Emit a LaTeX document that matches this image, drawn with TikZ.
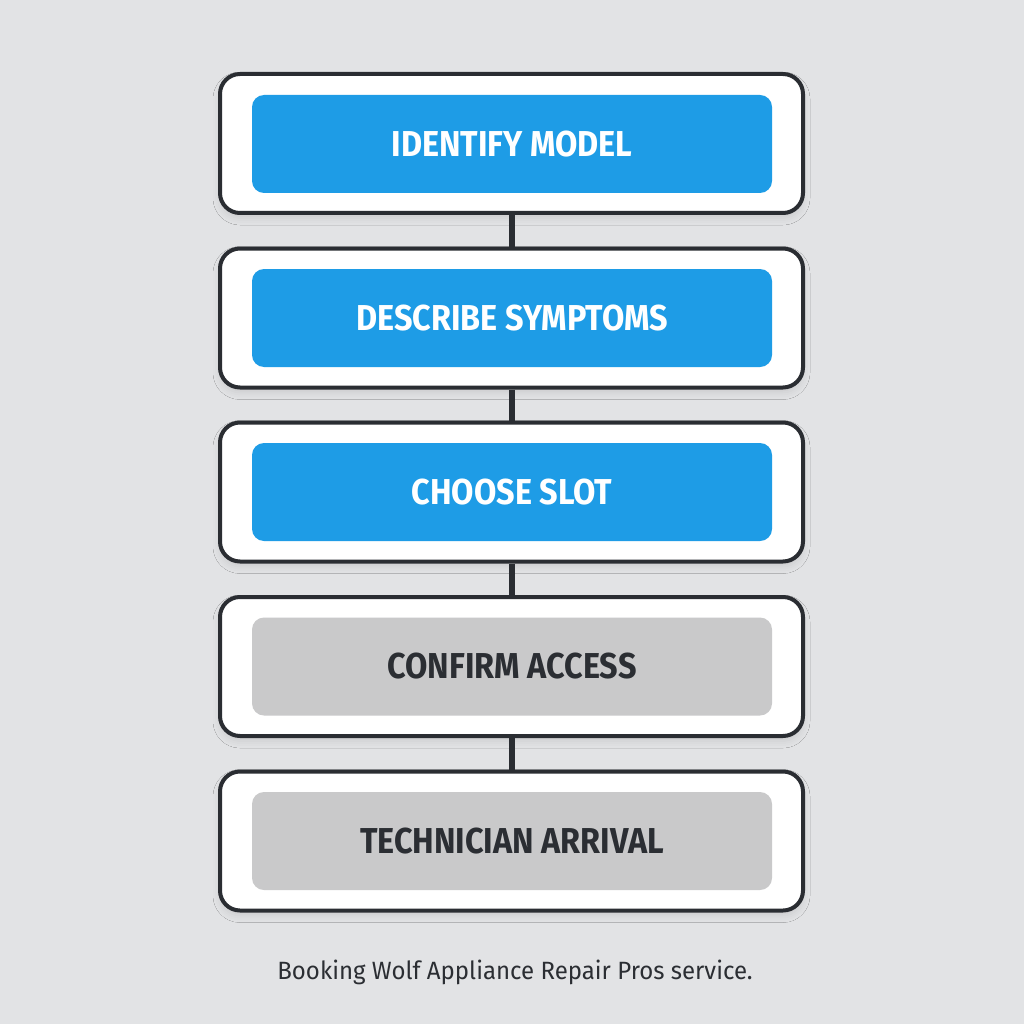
\documentclass[tikz,border=0pt]{standalone}
\usepackage{fontspec}
\setmainfont{Fira Sans}
\newfontfamily\boxfont{Fira Sans}[FakeStretch=0.9]
\newfontfamily\capfont{Fira Sans}[FakeStretch=0.96]
\usetikzlibrary{shadows.blur}
\definecolor{bg}{HTML}{E2E3E5}
\definecolor{blueb}{HTML}{1E9CE6}
\definecolor{grayb}{HTML}{C9C9CA}
\definecolor{edge}{HTML}{2A2D32}
\definecolor{txtdark}{HTML}{2B2E33}
\tikzset{
  outerbox/.style={draw=edge, line width=4pt, fill=white, rounded corners=20pt,
    minimum width=583pt, minimum height=139pt, inner sep=0pt,
    blur shadow={shadow xshift=0pt, shadow yshift=-5pt, shadow blur radius=7pt, shadow opacity=10}},
  innerbox/.style={rounded corners=12pt, minimum width=520pt, minimum height=98pt,
    inner sep=0pt, font=\boxfont\bfseries\fontsize{36}{40}\selectfont},
  active/.style={innerbox, fill=blueb, text=white},
  pending/.style={innerbox, fill=grayb, text=txtdark},
  link/.style={draw=edge, line width=6pt},
}
\begin{document}
\begin{tikzpicture}[x=1pt, y=-1pt]
\useasboundingbox[fill=bg] (0,0) rectangle (1024,1024);
\node[outerbox] (o1) at (511.5,143.5) {};
\node[outerbox] (o2) at (511.5,318) {};
\node[outerbox] (o3) at (511.5,492) {};
\node[outerbox] (o4) at (511.5,666.5) {};
\node[outerbox] (o5) at (511.5,841) {};
\draw[link] (o1.south) -- (o2.north);
\draw[link] (o2.south) -- (o3.north);
\draw[link] (o3.south) -- (o4.north);
\draw[link] (o4.south) -- (o5.north);
\node[active] (i1) at (512,144) {IDENTIFY MODEL};
\node[active] (i2) at (512,318) {DESCRIBE SYMPTOMS};
\node[active] (i3) at (512,492) {CHOOSE SLOT};
\node[pending] (i4) at (512,666.5) {CONFIRM ACCESS};
\node[pending] (i5) at (512,841) {TECHNICIAN ARRIVAL};
\node[font=\capfont\fontsize{25}{29}\selectfont, text=txtdark] (cap) at (515,972) {Booking Wolf Appliance Repair Pros service.};
\end{tikzpicture}
\end{document}
